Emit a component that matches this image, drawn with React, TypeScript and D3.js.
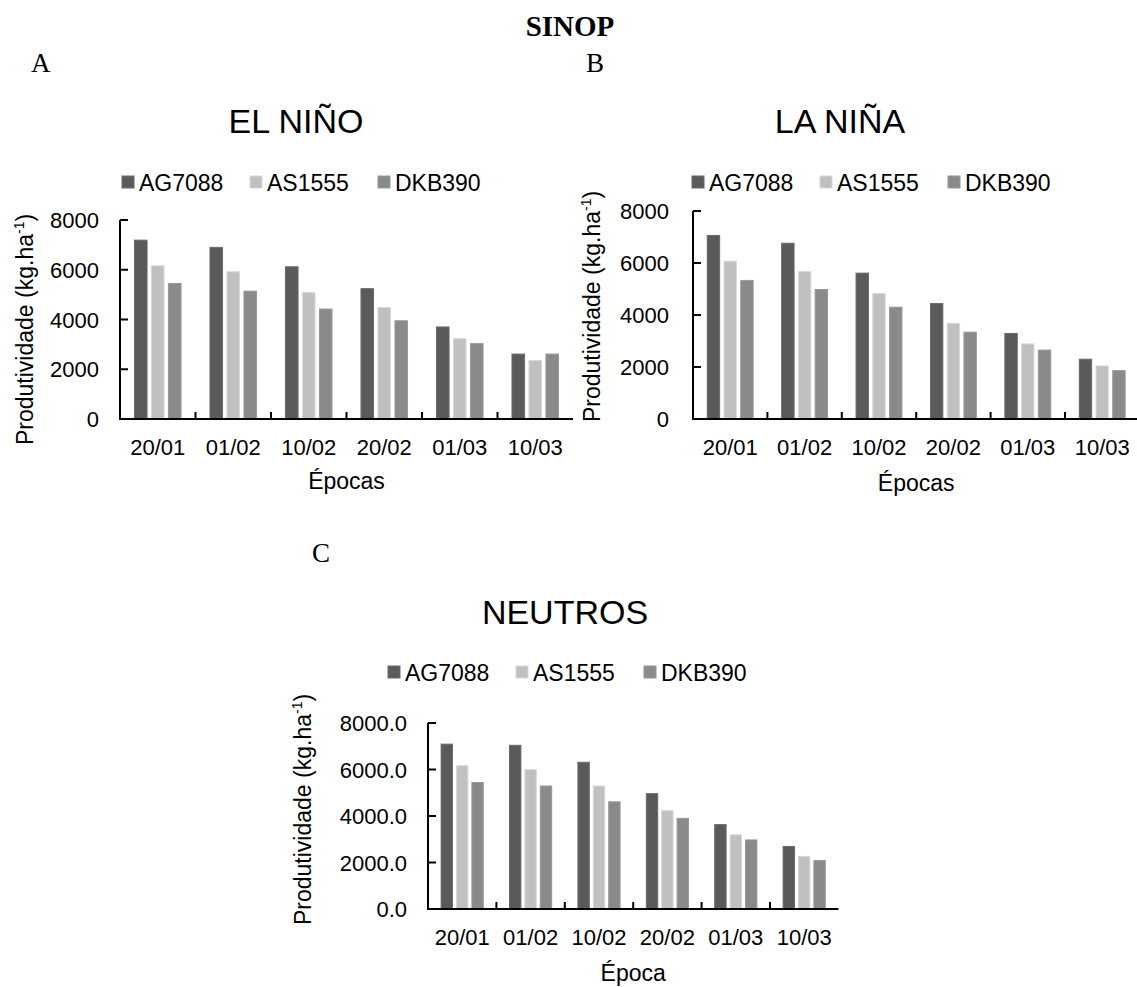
import React from "react";
import * as d3 from "d3";

const epocas = ["20/01", "01/02", "10/02", "20/02", "01/03", "10/03"];
const cultivares = ["AG7088", "AS1555", "DKB390"];
const yTicks = [0, 2000, 4000, 6000, 8000];

const elNinoAG7088 = [7190, 6900, 6120, 5240, 3700, 2610];
const elNinoAS1555 = [6160, 5920, 5080, 4480, 3230, 2350];
const elNinoDKB390 = [5450, 5140, 4420, 3950, 3030, 2610];

const laNinaAG7088 = [7060, 6760, 5610, 4440, 3290, 2300];
const laNinaAS1555 = [6070, 5670, 4830, 3680, 2890, 2040];
const laNinaDKB390 = [5330, 4980, 4300, 3340, 2650, 1860];

const neutrosAG7088 = [7090, 7040, 6310, 4960, 3630, 2690];
const neutrosAS1555 = [6160, 5990, 5290, 4230, 3190, 2260];
const neutrosDKB390 = [5440, 5290, 4610, 3900, 2970, 2090];

const colors: Record<string, string> = {
  AG7088: "#5a5a5a",
  AS1555: "#c0c0c0",
  DKB390: "#8a8a8a",
};
const strokes: Record<string, string> = {
  AG7088: "#6a6a6a",
  AS1555: "#d8d8d8",
  DKB390: "#989898",
};

const SANS = "'Liberation Sans', Arial, sans-serif";
const SERIF = "'Liberation Serif', 'Times New Roman', serif";

type PanelProps = {
  title: string;
  titleX: number;
  titleY: number;
  series: number[][];
  x0: number;
  band: number;
  yTop: number;
  yZero: number;
  tickFmt: (v: number) => string;
  tickRight: number;
  yTitleX: number;
  yTitleBottom: number;
  legendX: number;
  legendY: number;
  xLabelY: number;
  xTitle: string;
  xTitleY: number;
};

function Panel(p: PanelProps) {
  const x = d3
    .scaleBand<string>()
    .domain(epocas)
    .range([p.x0, p.x0 + p.band * 6])
    .padding(0);
  const group = p.band * 0.675;
  const inner = d3
    .scaleBand<string>()
    .domain(cultivares)
    .range([-group / 2, group / 2])
    .paddingInner(0.26)
    .paddingOuter(0.13);
  const y = d3.scaleLinear().domain([0, 8000]).range([p.yZero, p.yTop]);
  const xEnd = p.x0 + p.band * 6;
  const legendStep = 128;

  return (
    <g>
      <text
        x={p.titleX}
        y={p.titleY}
        textAnchor="middle"
        fontFamily={SANS}
        fontSize={34}
        fill="#000"
      >
        {p.title}
      </text>
      {cultivares.map((c, i) => (
        <g key={c}>
          <rect
            x={p.legendX + i * legendStep}
            y={p.legendY - 6}
            width={12}
            height={12}
            fill={colors[c]}
            stroke={strokes[c]}
            strokeWidth={1}
          />
          <text
            x={p.legendX + i * legendStep + 17}
            y={p.legendY + 8.5}
            fontFamily={SANS}
            fontSize={23}
            fill="#000"
          >
            {c}
          </text>
        </g>
      ))}
      {p.series.map((vals, si) =>
        vals.map((v, ci) => {
          const cx = (x(epocas[ci]) as number) + x.bandwidth() / 2;
          const bx = cx + (inner(cultivares[si]) as number);
          return (
            <rect
              key={`${si}-${ci}`}
              x={bx}
              y={y(v)}
              width={inner.bandwidth()}
              height={p.yZero - y(v)}
              fill={colors[cultivares[si]]}
              stroke={strokes[cultivares[si]]}
              strokeWidth={1}
            />
          );
        })
      )}
      <line x1={p.x0} x2={p.x0} y1={p.yTop} y2={p.yZero} stroke="#000" strokeWidth={2} />
      {yTicks.map((t) => (
        <g key={t}>
          <line x1={p.x0} x2={p.x0 + 8} y1={y(t)} y2={y(t)} stroke="#000" strokeWidth={2} />
          <text
            x={p.tickRight}
            y={y(t) + 8}
            textAnchor="end"
            fontFamily={SANS}
            fontSize={22}
            fill="#000"
          >
            {p.tickFmt(t)}
          </text>
        </g>
      ))}
      <line x1={p.x0 - 1} x2={xEnd} y1={p.yZero} y2={p.yZero} stroke="#000" strokeWidth={2} />
      {epocas.slice(1).map((e) => (
        <line
          key={e}
          x1={x(e) as number}
          x2={x(e) as number}
          y1={p.yZero}
          y2={p.yZero - 7}
          stroke="#000"
          strokeWidth={2}
        />
      ))}
      {epocas.map((e) => (
        <text
          key={e}
          x={(x(e) as number) + x.bandwidth() / 2}
          y={p.xLabelY}
          textAnchor="middle"
          fontFamily={SANS}
          fontSize={22}
          fill="#000"
        >
          {e}
        </text>
      ))}
      <text
        x={(p.x0 + xEnd) / 2}
        y={p.xTitleY}
        textAnchor="middle"
        fontFamily={SANS}
        fontSize={23}
        fill="#000"
      >
        {p.xTitle}
      </text>
      <text
        transform={`translate(${p.yTitleX + 8},${p.yTitleBottom}) rotate(-90)`}
        textAnchor="start"
        fontFamily={SANS}
        fontSize={23}
        fill="#000"
      >
        Produtividade (kg.ha
        <tspan dy={-9} fontSize={14}>
          -1
        </tspan>
        <tspan dy={9}>)</tspan>
      </text>
    </g>
  );
}

export default function App() {
  const fmtInt = (v: number) => d3.format("d")(v);
  const fmtDec = (v: number) => d3.format(".1f")(v);
  return (
    <svg
      width={1137}
      height={987}
      style={{ position: "absolute", left: 0, top: 0, background: "#fff" }}
    >
      <rect x={0} y={0} width={1137} height={987} fill="#fff" />
      <text x={570} y={36} textAnchor="middle" fontFamily={SERIF} fontWeight="bold" fontSize={29}>
        SINOP
      </text>
      <text x={31} y={72} fontFamily={SERIF} fontSize={27}>
        A
      </text>
      <text x={586} y={72} fontFamily={SERIF} fontSize={27}>
        B
      </text>
      <text x={312} y={562} fontFamily={SERIF} fontSize={27}>
        C
      </text>
      <Panel
        title="EL NIÑO"
        titleX={296}
        titleY={133}
        series={[elNinoAG7088, elNinoAS1555, elNinoDKB390]}
        x0={120}
        band={75.5}
        yTop={220}
        yZero={419}
        tickFmt={fmtInt}
        tickRight={99}
        yTitleX={25}
        yTitleBottom={445}
        legendX={122}
        legendY={182}
        xLabelY={455}
        xTitle="Épocas"
        xTitleY={489}
      />
      <Panel
        title="LA NIÑA"
        titleX={840}
        titleY={133}
        series={[laNinaAG7088, laNinaAS1555, laNinaDKB390]}
        x0={693}
        band={74.4}
        yTop={211}
        yZero={419}
        tickFmt={fmtInt}
        tickRight={669}
        yTitleX={592}
        yTitleBottom={422}
        legendX={692}
        legendY={182}
        xLabelY={455}
        xTitle="Épocas"
        xTitleY={491}
      />
      <Panel
        title="NEUTROS"
        titleX={565}
        titleY={624}
        series={[neutrosAG7088, neutrosAS1555, neutrosDKB390]}
        x0={428}
        band={68.4}
        yTop={723}
        yZero={909}
        tickFmt={fmtDec}
        tickRight={407}
        yTitleX={303}
        yTitleBottom={925}
        legendX={388}
        legendY={672}
        xLabelY={945}
        xTitle="Época"
        xTitleY={981}
      />
    </svg>
  );
}
